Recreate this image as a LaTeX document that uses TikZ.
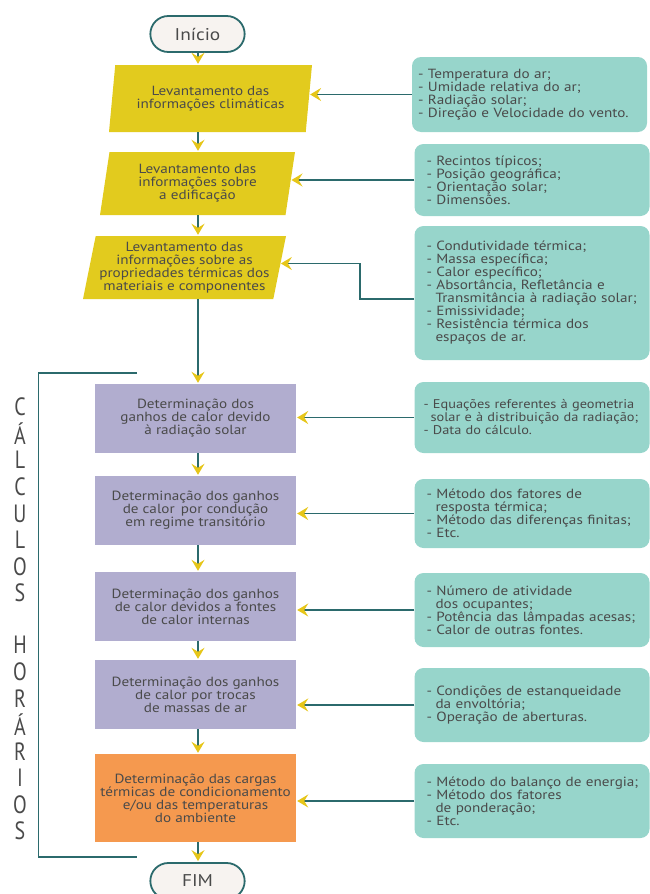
\documentclass[tikz,border=0pt]{standalone}
\usepackage{fontspec}
\setmainfont{PT Sans}[FakeStretch=1.14]
\newfontfamily\vfont{PT Sans}[FakeStretch=0.8]
\usetikzlibrary{shapes.geometric,shapes.misc,arrows.meta,positioning}
\definecolor{txt}{HTML}{4A4A4A}
\definecolor{linec}{HTML}{2B6A6C}
\definecolor{arrc}{HTML}{E6C619}
\definecolor{yel}{HTML}{E2CB1E}
\definecolor{tealc}{HTML}{97D5CB}
\definecolor{lav}{HTML}{B1ADCF}
\definecolor{ora}{HTML}{F5994F}
\definecolor{termc}{HTML}{F7F3F0}
\newcommand{\bodyfont}{\fontsize{13.3}{13}\selectfont}
\newcommand{\ind}{\hspace*{15pt}}
\newcommand{\cont}{\hspace*{9pt}}
\tikzset{
  termbox/.style={rounded rectangle,draw=linec,line width=1.8pt,fill=termc,text=txt,
    minimum width=101pt,minimum height=36pt,font=\fontsize{17}{17}\selectfont},
  inbox/.style={trapezium,trapezium left angle=76,trapezium right angle=104,
    trapezium stretches body,fill=yel,text=txt,align=center,inner sep=0pt,font=\bodyfont},
  calcbox/.style={rectangle,fill=lav,text=txt,align=center,inner sep=0pt,
    minimum width=201pt,font=\bodyfont},
  loadbox/.style={calcbox,fill=ora},
  notebox/.style={rectangle,rounded corners=9pt,fill=tealc,text=txt,align=left,
    minimum width=235pt,text width=241pt,inner xsep=-3pt,font=\bodyfont},
  flow/.style={draw=linec,line width=1.6pt,shorten >=1pt,
    -{Stealth[length=11pt,width=13pt,inset=4pt,color=arrc]}},
  brk/.style={draw=linec,line width=1.6pt},
  vlet/.style={text=txt,font=\vfont\fontsize{25}{25}\selectfont},
}

\begin{document}
\begin{tikzpicture}[x=1pt,y=-1pt]
  \useasboundingbox (0,0) rectangle (650,894);
  \coordinate (col) at (198,0);
  % ===================== main column =====================
  \node[termbox] (start) at (197.5,34) {Início};
  \node[inbox,minimum width=203pt,minimum height=67pt] (p1) at (210.5,98.5)
    {Levantamento das\\informações climáticas};
  \node[inbox,minimum width=195pt,minimum height=63pt] (p2) at (197.5,183.5)
    {Levantamento das\\informações sobre\\a edificação};
  \node[inbox,minimum width=203pt,minimum height=63pt] (p3) at (184.5,267.5)
    {Levantamento das\\informações sobre as\\propriedades térmicas dos\\materiais e componentes};
  \node[calcbox,minimum height=69pt] (q1) at (195.5,418.5)
    {Determinação dos\\ganhos de calor devido\\à radiação solar};
  \node[calcbox,minimum height=69pt] (q2) at (195.5,510.5)
    {Determinação dos ganhos\\de calor\, por condução\\em regime transitório};
  \node[calcbox,minimum height=69pt] (q3) at (195.5,606.5)
    {Determinação dos ganhos\\de calor devidos a fontes\\de calor internas};
  \node[calcbox,minimum height=69pt] (q4) at (195.5,694.5)
    {Determinação dos ganhos\\de calor por trocas\\de massas de ar};
  \node[loadbox,minimum height=88pt] (o1) at (195.5,798)
    {Determinação das cargas\\térmicas de condicionamento\\e/ou das temperaturas\\do ambiente};
  \node[termbox] (stop) at (197.5,881) {FIM};
  \foreach \a/\b in {start/p1,p1/p2,p2/p3,p3/q1,q1/q2,q2/q3,q3/q4,q4/o1,o1/stop}
    \draw[flow] (\a.south -| col) -- (\b.north -| col);
  % ===================== data boxes =====================
  \node[notebox,minimum height=75pt] (t1) at (529.5,94.5)
    {\hspace*{9pt}- Temperatura do ar;\\\hspace*{9pt}- Umidade relativa do ar;\\
     \hspace*{9pt}- Radiação solar;\\\hspace*{9pt}- Direção e Velocidade do vento.};
  \node[notebox,minimum height=72pt] (t2) at (532,180)
    {\ind- Recintos típicos;\\\ind- Posição geográfica;\\\ind- Orientação solar;\\\ind- Dimensões.};
  \node[notebox,minimum height=134pt] (t3) at (532,293)
    {\ind- Condutividade térmica;\\\ind- Massa específica;\\\ind- Calor específico;\\
     \ind- Absortância, Refletância e\\\ind\cont Transmitância à radiação solar;\\
     \ind- Emissividade;\\\ind- Resistência térmica dos\\\ind\cont espaços de ar.};
  \node[notebox,minimum height=71pt,font=\fontsize{12.6}{13}\selectfont] (t4) at (532,417.5)
    {\hspace*{12pt}- Equações referentes à geometria\\
     \mbox{\hspace*{12pt}\hspace*{7pt}solar e à distribuição da radiação;}\\
     \hspace*{12pt}- Data do cálculo.};
  \node[notebox,minimum height=69pt] (t5) at (532,513.5)
    {\ind- Método dos fatores de\\\ind\cont resposta térmica;\\\ind- Método das diferenças finitas;\\\ind- Etc.};
  \node[notebox,minimum height=74pt] (t6) at (532,610)
    {\ind- Número de atividade\\\ind\cont dos ocupantes;\\\ind- Potência das lâmpadas acesas;\\\ind- Calor de outras fontes.};
  \node[notebox,minimum height=74pt] (t7) at (532,705)
    {\ind- Condições de estanqueidade\\\ind\cont da envoltória;\\\ind- Operação de aberturas.};
  \node[notebox,minimum height=74pt] (t8) at (532,801)
    {\ind- Método do balanço de energia;\\\ind- Método dos fatores\\\ind\cont de ponderação;\\\ind- Etc.};
  \foreach \a/\b in {t1/p1,t2/p2,t4/q1,t5/q2,t6/q3,t7/q4,t8/o1}
    \draw[flow] (\a.west) -- (\a.west -| \b.east);
  \coordinate (k3) at (360,299);
  \draw[flow] (t3.west |- k3) -- (k3) |- ([yshift=4pt]p3.east);
  % ===================== hourly bracket =====================
  \draw[brk] (137,373) -- (38.6,373) -- (38.6,857) -- (137,857);
  \foreach \ch [count=\i] in {C,Á,L,C,U,L,O,S}
    \node[vlet] (va\i) at (20,407+26.6*\i-26.6) {\ch};
  \foreach \ch [count=\i] in {H,O,R,Á,R,I,O,S}
    \node[vlet] (vb\i) at (20,645+26.6*\i-26.6) {\ch};
\end{tikzpicture}
\end{document}
